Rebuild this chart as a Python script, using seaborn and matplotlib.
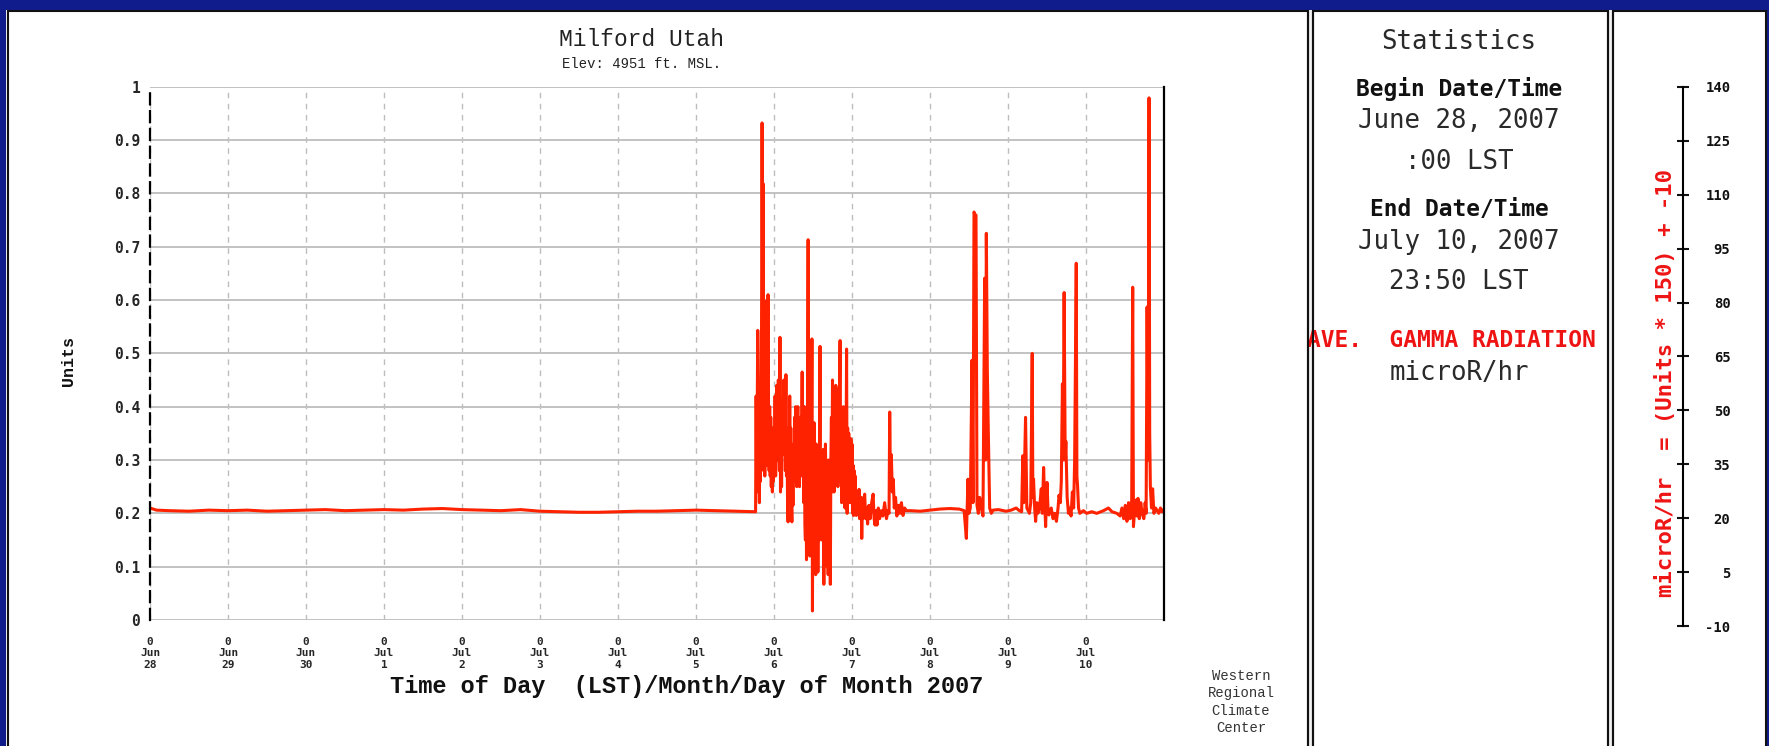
import numpy as np
import pandas as pd
import matplotlib
matplotlib.use("Agg")
import matplotlib.pyplot as plt
import seaborn as sns
from matplotlib.patches import Rectangle
from matplotlib.lines import Line2D
from matplotlib import font_manager as fm

# ---------------- data (hours since Jun 28 2007 00:00 LST, value in Units) ----------------
tick_months = ["Jun", "Jun", "Jun", "Jul", "Jul", "Jul", "Jul", "Jul", "Jul", "Jul", "Jul", "Jul", "Jul"]
tick_days = ["28", "29", "30", "1", "2", "3", "4", "5", "6", "7", "8", "9", "10"]
ytick_units = [0, 0.1, 0.2, 0.3, 0.4, 0.5, 0.6, 0.7, 0.8, 0.9, 1.0]
ytick_text = ["0", "0.1", "0.2", "0.3", "0.4", "0.5", "0.6", "0.7", "0.8", "0.9", "1"]
right_ticks = [-10, 5, 20, 35, 50, 65, 80, 95, 110, 125, 140]

calm_hours = [0, 2, 6, 12, 18, 24, 30, 36, 42, 48, 54, 60, 66, 72, 78, 84, 90, 96,
              102, 108, 114, 120, 126, 132, 138, 144, 150, 156, 162, 168, 174, 180, 186]
calm_units = [0.210, 0.206, 0.205, 0.204, 0.206, 0.205, 0.206, 0.204, 0.205, 0.206,
              0.207, 0.205, 0.206, 0.207, 0.206, 0.208, 0.209, 0.207, 0.206, 0.205,
              0.207, 0.204, 0.203, 0.202, 0.202, 0.203, 0.204, 0.204, 0.205, 0.206,
              0.205, 0.204, 0.203]

# storm: 10-minute samples starting Jul 5 18:20
storm_start_hour = 186 + 20 / 60
storm_step_hour = 10 / 60
storm_units = [
    0.203, 0.42, 0.24, 0.40, 0.543, 0.30, 0.42, 0.22, 0.44, 0.26,
    0.45, 0.55, 0.932, 0.60, 0.818, 0.28, 0.55, 0.27, 0.598, 0.35,
    0.29, 0.45, 0.30, 0.61, 0.36, 0.28, 0.40, 0.27, 0.38, 0.25,
    0.34, 0.24, 0.36, 0.26, 0.35, 0.31, 0.42, 0.27, 0.40, 0.44,
    0.34, 0.30, 0.45, 0.33, 0.28, 0.53, 0.24, 0.38, 0.25, 0.40,
    0.31, 0.38, 0.45, 0.31, 0.40, 0.28, 0.46, 0.27, 0.35, 0.22,
    0.184, 0.36, 0.25, 0.42, 0.30, 0.36, 0.22, 0.184, 0.30, 0.215,
    0.33, 0.27, 0.38, 0.26, 0.40, 0.31, 0.25, 0.34, 0.40, 0.28,
    0.35, 0.25, 0.34, 0.38, 0.27, 0.36, 0.465, 0.30, 0.40, 0.22,
    0.40, 0.18, 0.15, 0.30, 0.113, 0.28, 0.40, 0.713, 0.14, 0.35,
    0.12, 0.30, 0.16, 0.30, 0.527, 0.017, 0.36, 0.12, 0.37, 0.09,
    0.28, 0.085, 0.33, 0.12, 0.30, 0.09, 0.26, 0.15, 0.33, 0.513,
    0.22, 0.30, 0.15, 0.30, 0.17, 0.32, 0.067, 0.28, 0.15, 0.33,
    0.20, 0.30, 0.10, 0.24, 0.085, 0.30, 0.12, 0.28, 0.067, 0.30,
    0.38, 0.24, 0.45, 0.28, 0.42, 0.24, 0.43, 0.26, 0.44, 0.434,
    0.27, 0.41, 0.25, 0.42, 0.26, 0.44, 0.524, 0.30, 0.37, 0.22,
    0.38, 0.24, 0.40, 0.29, 0.38, 0.21, 0.39, 0.30, 0.508, 0.20,
    0.36, 0.22, 0.35, 0.25, 0.30, 0.22, 0.34, 0.23, 0.33, 0.20,
    0.29, 0.196, 0.28, 0.20, 0.27, 0.21, 0.196, 0.22, 0.20, 0.225,
    0.20, 0.245, 0.19, 0.215, 0.20, 0.23, 0.153, 0.21, 0.19, 0.22,
]

tail_hours = [219.9, 220.2, 220.5, 220.8, 221.2, 221.6, 222.05, 222.5, 222.8, 223.1,
              223.4, 223.7, 224.1, 224.5, 225.0, 225.5, 226.05, 226.6, 227.1, 227.4,
              227.6, 227.8, 228.1, 228.4, 228.7, 229.0, 229.4, 229.8, 230.3, 230.7,
              231.2, 231.7, 232.2, 232.7]
tail_units = [0.236, 0.19, 0.21, 0.18, 0.215, 0.19, 0.22, 0.236, 0.19, 0.178,
              0.205, 0.178, 0.21, 0.19, 0.205, 0.195, 0.22, 0.19, 0.205, 0.20,
              0.39, 0.28, 0.31, 0.24, 0.264, 0.21, 0.23, 0.195, 0.215, 0.20,
              0.22, 0.196, 0.21, 0.205]

jul8_hours = [234, 237, 240, 243, 246, 249, 250.5,
              251.18, 251.69, 252.0, 252.4, 252.92,
              253.23, 253.54, 253.85, 254.16, 254.46,
              254.87, 255.28, 255.8, 256.3, 256.82,
              257.13, 257.33, 257.64, 257.95, 258.36,
              258.87, 259.4, 261.0, 263.4, 265.0,
              266.5, 267.5, 268.2]
jul8_units = [0.205, 0.204, 0.206, 0.208, 0.209, 0.208, 0.205,
              0.153, 0.264, 0.20, 0.21, 0.487,
              0.22, 0.765, 0.76, 0.759, 0.215,
              0.20, 0.23, 0.21, 0.195, 0.641,
              0.30, 0.725, 0.468, 0.35, 0.21,
              0.20, 0.206, 0.207, 0.204, 0.206,
              0.21, 0.205, 0.203]

jul9_10_hours = [268.55, 268.86, 269.4, 269.8, 270.6, 271.0, 271.45, 271.65, 271.86, 272.2,
                 272.5, 272.9, 273.2, 273.7, 274.24, 274.55, 274.96, 275.27, 275.58, 276.0,
                 276.3, 276.6, 277.3, 277.86, 278.4, 278.9, 279.4, 279.7, 280.1, 280.4,
                 280.75, 280.96, 281.27, 281.6, 281.8, 282.2, 282.6, 283.0, 283.4, 283.8,
                 284.2, 284.5, 285.0, 285.2, 285.4, 285.7, 286.1, 287.2, 288.2, 289.75,
                 291.3, 293.4, 294.9, 296.0, 297.5, 298.5, 299.06, 299.6, 300.1, 300.6,
                 301.1, 301.6, 302.06, 302.37, 302.6, 303.0, 303.4, 303.7, 304.0, 304.4,
                 304.85, 305.26, 305.8, 306.2, 306.5, 306.8, 307.1, 307.4, 307.6, 307.8,
                 308.15, 308.5, 308.9, 309.4, 309.9, 310.4, 310.9, 311.4, 311.9]
jul9_10_units = [0.308, 0.22, 0.38, 0.21, 0.20, 0.22, 0.50, 0.23, 0.264, 0.21,
                 0.185, 0.22, 0.20, 0.21, 0.246, 0.20, 0.286, 0.22, 0.175, 0.258,
                 0.21, 0.197, 0.21, 0.19, 0.20, 0.185, 0.21, 0.234, 0.22, 0.26,
                 0.443, 0.30, 0.614, 0.30, 0.335, 0.23, 0.20, 0.21, 0.195, 0.24,
                 0.21, 0.298, 0.669, 0.27, 0.252, 0.21, 0.20, 0.205, 0.20, 0.203,
                 0.20, 0.205, 0.21, 0.203, 0.20, 0.195, 0.21, 0.19, 0.215, 0.185,
                 0.22, 0.19, 0.225, 0.624, 0.175, 0.21, 0.225, 0.195, 0.228, 0.19,
                 0.22, 0.20, 0.19, 0.22, 0.20, 0.587, 0.30, 0.979, 0.35, 0.25,
                 0.21, 0.246, 0.20, 0.21, 0.205, 0.20, 0.21, 0.203, 0.207]

storm_hours = storm_start_hour + storm_step_hour * np.arange(len(storm_units))
df = pd.DataFrame({
    "Hours": np.concatenate([calm_hours, storm_hours, tail_hours, jul8_hours, jul9_10_hours]),
    "Value": np.concatenate([calm_units, storm_units, tail_units, jul8_units, jul9_10_units]),
})

# ---------------- fonts ----------------
sns.set_style("white")
plt.rcParams["font.family"] = ["DejaVu Sans Mono", "DejaVu Sans"]
_names = {f.name for f in fm.fontManager.ttflist}
_serif_mono = [n for n in ["Liberation Mono", "Courier New", "Cousine", "Nimbus Mono PS",
                           "Nimbus Mono L", "FreeMono", "Courier 10 Pitch", "Courier"]
               if n in _names]
HAS_COURIER = bool(_serif_mono)
MONO = _serif_mono[0] if HAS_COURIER else "DejaVu Sans Mono"
SMONO = "DejaVu Sans Mono"

# ---------------- figure ----------------
W, H, DPI = 1769, 746, 100
LINE_RED = "#ff2200"
TEXT_RED = "#ee1414"

fig = plt.figure(figsize=(W / DPI, H / DPI), dpi=DPI)
fig.patch.set_facecolor("#101c8c")


def fx(x):
    return x / W


def fy(y):
    return 1 - y / H


fig.add_artist(Rectangle((fx(6), fy(760)), fx(1767) - fx(6), fy(10) - fy(760),
                         transform=fig.transFigure, facecolor="#f2f2f2",
                         edgecolor="none", zorder=-6))
for x0, x1 in [(8, 1308), (1313, 1608), (1613, 1766)]:
    fig.add_artist(Rectangle((fx(x0), fy(760)), fx(x1) - fx(x0), fy(11) - fy(760),
                             transform=fig.transFigure, facecolor="white",
                             edgecolor="#111111", lw=1.5, zorder=-5))

# ---------------- main chart ----------------
ax = fig.add_axes([fx(150), fy(620), fx(1164) - fx(150), (620 - 86.7) / H])
ax.set_facecolor("none")
sns.lineplot(data=df, x="Hours", y="Value", ax=ax, color=LINE_RED, lw=2.2,
             estimator=None)
ax.set_xlim(0, 312)
ax.set_ylim(0, 1)
ax.set_xlabel("")
ax.set_ylabel("")
ax.set_axisbelow(True)

ax.set_yticks(ytick_units)
ax.set_yticklabels(ytick_text, fontfamily=SMONO, fontweight="bold", fontsize=10.5)
ax.set_xticks([24 * i for i in range(len(tick_days))])
ax.set_xticklabels([f"0\n{m}\n{d}" for m, d in zip(tick_months, tick_days)],
                   fontfamily=SMONO, fontweight="bold", fontsize=8, linespacing=1.2)
ax.tick_params(axis="x", length=0, pad=12)
ax.tick_params(axis="y", length=0, pad=7)
ax.grid(axis="y", color="#c2c2c2", lw=1.4, ls="-")
ax.grid(axis="x", color="#bdbdbd", lw=1.0, ls=(0, (4, 4)))

for s in ["top", "bottom"]:
    ax.spines[s].set_visible(False)
ax.spines["left"].set_color("black")
ax.spines["left"].set_linewidth(1.6)
ax.spines["left"].set_linestyle((0, (5, 3)))
ax.spines["right"].set_color("black")
ax.spines["right"].set_linewidth(1.6)

xl_size = 17 if HAS_COURIER else 14.5
fig.text(fx(641), fy(39.5), "Milford Utah", family=MONO, fontsize=16.5 if HAS_COURIER else 15,
         ha="center", va="center", color="#222222")
fig.text(fx(642), fy(64), "Elev: 4951 ft. MSL.", family=MONO, fontsize=10 if HAS_COURIER else 9,
         ha="center", va="center", color="#222222")
fig.text(fx(68), fy(361), "Units", family=MONO, fontweight="bold", fontsize=12,
         rotation=90, ha="center", va="center", color="#111111")
fig.text(fx(687), fy(686), "Time of Day  (LST)/Month/Day of Month 2007", family=MONO,
         fontweight="bold", fontsize=xl_size, ha="center", va="center", color="#111111")
fig.text(fx(1241), fy(702), "Western\nRegional\nClimate\nCenter", family=MONO,
         fontsize=10, ha="center", va="center", linespacing=1.3, color="#333333")

# ---------------- statistics panel ----------------
cx = fx(1459)
stats = [
    ("Statistics", 42, 18.5, "normal", "#2a2a2a"),
    ("Begin Date/Time", 89, 16.5, "bold", "#111111"),
    ("June 28, 2007", 121, 18.5, "normal", "#2a2a2a"),
    (":00 LST", 162, 18.5, "normal", "#2a2a2a"),
    ("End Date/Time", 209, 16.5, "bold", "#111111"),
    ("July 10, 2007", 242, 18.5, "normal", "#2a2a2a"),
    ("23:50 LST", 282, 18.5, "normal", "#2a2a2a"),
    ("microR/hr", 373, 18.5, "normal", "#2a2a2a"),
]
for txt, yy, fs, fw, col in stats:
    fig.text(cx, fy(yy), txt, family=SMONO, fontsize=fs, fontweight=fw,
             ha="center", va="center", color=col)
fig.text(fx(1451), fy(340), "AVE.  GAMMA RADIATION", family=SMONO, fontsize=16.5,
         fontweight="bold", ha="center", va="center", color=TEXT_RED)

for xs in [1308, 1313, 1608, 1613]:
    fig.add_artist(Line2D([fx(xs), fx(xs)], [fy(11), 0], transform=fig.transFigure,
                          color="#111111", lw=1.5, zorder=10))

# ---------------- right scale panel ----------------
ax2 = fig.add_axes([fx(1683), fy(626), 1e-4, (626 - 87) / H])
ax2.patch.set_alpha(0)
ax2.set_ylim(-10, 140)
ax2.set_xticks([])
ax2.yaxis.tick_right()
ax2.set_yticks(right_ticks)
ax2.set_yticklabels([str(v) for v in right_ticks], ha="right", fontfamily=SMONO,
                    fontweight="bold", fontsize=10)
for s in ["left", "top", "bottom"]:
    ax2.spines[s].set_visible(False)
ax2.spines["right"].set_color("black")
ax2.spines["right"].set_linewidth(1.5)
ax2.tick_params(axis="y", direction="inout", length=8, width=1.5, pad=30, colors="#111111")

fig.text(fx(1665), fy(383), "microR/hr  = (Units * 150) + -10", family=SMONO,
         fontweight="bold", fontsize=16, rotation=90, ha="center", va="center",
         color=TEXT_RED)

fig.savefig("out.png", dpi=DPI, facecolor=fig.get_facecolor())
